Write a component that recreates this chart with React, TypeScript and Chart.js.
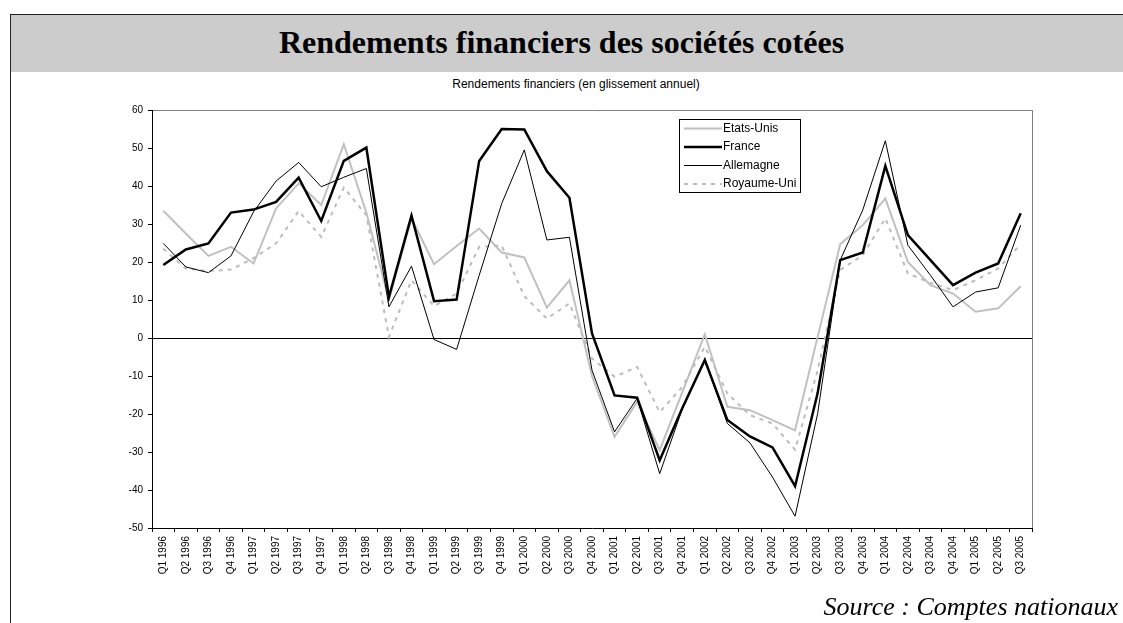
import React, { useEffect, useRef } from "react";
import { Chart, registerables } from "chart.js";

Chart.register(...registerables);

const categories = [
  "Q1 1996", "Q2 1996", "Q3 1996", "Q4 1996",
  "Q1 1997", "Q2 1997", "Q3 1997", "Q4 1997",
  "Q1 1998", "Q2 1998", "Q3 1998", "Q4 1998",
  "Q1 1999", "Q2 1999", "Q3 1999", "Q4 1999",
  "Q1 2000", "Q2 2000", "Q3 2000", "Q4 2000",
  "Q1 2001", "Q2 2001", "Q3 2001", "Q4 2001",
  "Q1 2002", "Q2 2002", "Q3 2002", "Q4 2002",
  "Q1 2003", "Q2 2003", "Q3 2003", "Q4 2003",
  "Q1 2004", "Q2 2004", "Q3 2004", "Q4 2004",
  "Q1 2005", "Q2 2005", "Q3 2005",
];

const etatsUnis = [
  33.5, 27.5, 21.6, 24.0, 19.6, 34.1, 40.7, 35.0, 51.0, 33.0,
  10.0, 31.5, 19.4, 24.2, 28.8, 22.5, 21.2, 8.0, 15.2, -10.0,
  -26.0, -16.8, -29.5, -14.3, 1.0, -18.1, -19.0, -21.6, -24.3, 0.3,
  24.7, 29.7, 36.7, 20.0, 13.9, 11.7, 6.9, 7.8, 13.6,
];

const france = [
  19.2, 23.3, 24.9, 33.0, 33.8, 35.8, 42.2, 30.8, 46.6, 50.1,
  10.8, 32.2, 9.7, 10.1, 46.6, 55.0, 54.9, 43.9, 36.9, 1.2,
  -15.1, -15.7, -32.2, -18.5, -5.8, -21.6, -25.9, -28.8, -39.0, -14.5,
  20.5, 22.5, 45.3, 27.1, 20.5, 13.9, 17.2, 19.6, 32.8,
];

const allemagne = [
  24.9, 18.7, 17.2, 21.6, 33.2, 41.3, 46.2, 39.8, 42.3, 44.6,
  8.2, 18.9, -0.4, -3.0, 16.5, 35.4, 49.5, 25.8, 26.5, -8.5,
  -24.7, -15.9, -35.7, -18.7, -5.8, -22.5, -27.6, -36.6, -46.9, -19.9,
  20.5, 33.7, 51.9, 24.4, 16.5, 8.2, 12.1, 13.2, 29.7,
];

const royaumeUni = [
  23.5, 18.3, 17.6, 18.0, 21.0, 24.9, 33.4, 26.6, 39.6, 32.3,
  0.3, 15.2, 8.4, 11.7, 24.0, 24.3, 11.0, 5.1, 9.1, -5.4,
  -10.2, -7.6, -19.5, -12.9, -2.3, -14.6, -20.3, -22.5, -29.4, -8.5,
  17.9, 21.8, 31.5, 17.0, 14.5, 12.6, 15.2, 18.3, 24.7,
];

const seriesNames = ["Etats-Unis", "France", "Allemagne", "Royaume-Uni"];
const yMin = -50;
const yMax = 60;
const yStep = 10;

const title = "Rendements financiers des sociétés cotées";
const subtitle = "Rendements financiers (en glissement annuel)";
const sourceText = "Source : Comptes nationaux";

const SERIF = '"Liberation Serif", "Times New Roman", serif';
const SANS = '"Liberation Sans", Arial, sans-serif';

export default function App() {
  const canvasRef = useRef<HTMLCanvasElement | null>(null);

  useEffect(() => {
    document.body.style.margin = "0";
    const canvas = canvasRef.current;
    if (!canvas) return;

    const boxLegend = {
      id: "boxLegend",
      afterDraw(chart: any) {
        const ctx = chart.ctx;
        const { top, right, bottom } = chart.chartArea;
        ctx.save();
        ctx.strokeStyle = "#808080";
        ctx.lineWidth = 1;
        ctx.setLineDash([]);
        ctx.beginPath();
        ctx.moveTo(Math.round(right) + 0.5, Math.round(top));
        ctx.lineTo(Math.round(right) + 0.5, Math.round(bottom));
        ctx.stroke();

        const bx = 679.5, by = 119.5, bw = 121, bh = 73;
        ctx.fillStyle = "#ffffff";
        ctx.fillRect(bx, by, bw, bh);
        ctx.strokeStyle = "#000000";
        ctx.lineWidth = 1;
        ctx.strokeRect(bx, by, bw, bh);
        const rows = [128.5, 147, 165.5, 184];
        ctx.font = `12px ${SANS}`;
        ctx.textBaseline = "middle";
        ctx.textAlign = "left";
        chart.data.datasets.forEach((ds: any, i: number) => {
          const y = rows[i];
          ctx.strokeStyle = ds.borderColor;
          ctx.lineWidth = ds.borderWidth;
          ctx.setLineDash(ds.borderDash || []);
          ctx.beginPath();
          ctx.moveTo(684, y);
          ctx.lineTo(722, y);
          ctx.stroke();
          ctx.setLineDash([]);
          ctx.fillStyle = "#000000";
          ctx.fillText(ds.label, 723, y);
        });
        ctx.restore();
      },
    };

    const chart = new Chart(canvas, {
      type: "line",
      data: {
        labels: categories,
        datasets: [
          {
            label: seriesNames[0],
            data: etatsUnis,
            borderColor: "#c0c0c0",
            borderWidth: 2,
            order: 4,
          },
          {
            label: seriesNames[1],
            data: france,
            borderColor: "#000000",
            borderWidth: 2.5,
            order: 1,
          },
          {
            label: seriesNames[2],
            data: allemagne,
            borderColor: "#000000",
            borderWidth: 1,
            order: 2,
          },
          {
            label: seriesNames[3],
            data: royaumeUni,
            borderColor: "#bdbdbd",
            borderWidth: 2,
            borderDash: [4, 5],
            order: 3,
          },
        ] as any,
      },
      options: {
        responsive: false,
        animation: false,
        devicePixelRatio: 1,
        elements: {
          point: { radius: 0, hoverRadius: 0 },
          line: { tension: 0, borderJoinStyle: "miter", borderCapStyle: "butt", fill: false },
        },
        layout: { padding: { left: 112, top: 110, right: 91, bottom: 25 } },
        plugins: {
          legend: { display: false },
          title: { display: false },
          tooltip: { enabled: false },
        },
        scales: {
          x: {
            type: "category",
            offset: true,
            grid: {
              offset: true,
              drawOnChartArea: false,
              drawTicks: true,
              tickLength: 4,
              tickColor: "#000000",
              color: "#000000",
            },
            border: { display: true, color: "#000000", width: 1 },
            ticks: {
              autoSkip: false,
              maxRotation: 90,
              minRotation: 90,
              padding: 4,
              color: "#000000",
              font: { family: SANS, size: 10 },
            },
            afterFit(scale: any) {
              scale.height = 70;
            },
          },
          y: {
            min: yMin,
            max: yMax,
            ticks: {
              stepSize: yStep,
              color: "#000000",
              padding: 5,
              font: { family: SANS, size: 10 },
            },
            grid: {
              drawTicks: true,
              tickLength: 4,
              tickColor: "#000000",
              color: (ctx: any) => {
                if (!ctx.tick) return "rgba(0,0,0,0)";
                if (ctx.tick.value === 0) return "#000000";
                if (ctx.tick.value === yMax) return "#808080";
                return "rgba(0,0,0,0)";
              },
              lineWidth: 1,
            },
            border: { display: true, color: "#000000", width: 1 },
            afterFit(scale: any) {
              scale.width = 40;
            },
          },
        },
      } as any,
      plugins: [boxLegend],
    });

    return () => chart.destroy();
  }, []);

  return (
    <div style={{ position: "relative", width: 1123, height: 623, overflow: "hidden", background: "#ffffff" }}>
      <div
        style={{
          position: "absolute",
          left: 10,
          top: 14,
          right: 0,
          bottom: 0,
          borderLeft: "1px solid #222",
          borderTop: "1px solid #222",
        }}
      />
      <div
        style={{
          position: "absolute",
          left: 11,
          top: 15,
          right: 0,
          height: 57,
          background: "#cccccc",
        }}
      />
      <div
        style={{
          position: "absolute",
          left: 0,
          top: 14,
          width: 1123,
          height: 57,
          lineHeight: "57px",
          textAlign: "center",
          fontFamily: SERIF,
          fontWeight: "bold",
          fontSize: 32,
          color: "#000",
          whiteSpace: "nowrap",
        }}
      >
        {title}
      </div>
      <div
        style={{
          position: "absolute",
          left: 376,
          top: 77,
          width: 400,
          textAlign: "center",
          fontFamily: SANS,
          fontSize: 12,
          lineHeight: "14px",
          color: "#000",
          whiteSpace: "nowrap",
        }}
      >
        {subtitle}
      </div>
      <canvas
        ref={canvasRef}
        width={1123}
        height={623}
        style={{ position: "absolute", left: 0, top: 0, width: 1123, height: 623 }}
      />
      <div
        style={{
          position: "absolute",
          right: 5,
          top: 592,
          fontFamily: SERIF,
          fontStyle: "italic",
          fontSize: 26,
          lineHeight: "30px",
          color: "#000",
          whiteSpace: "nowrap",
        }}
      >
        {sourceText}
      </div>
    </div>
  );
}
